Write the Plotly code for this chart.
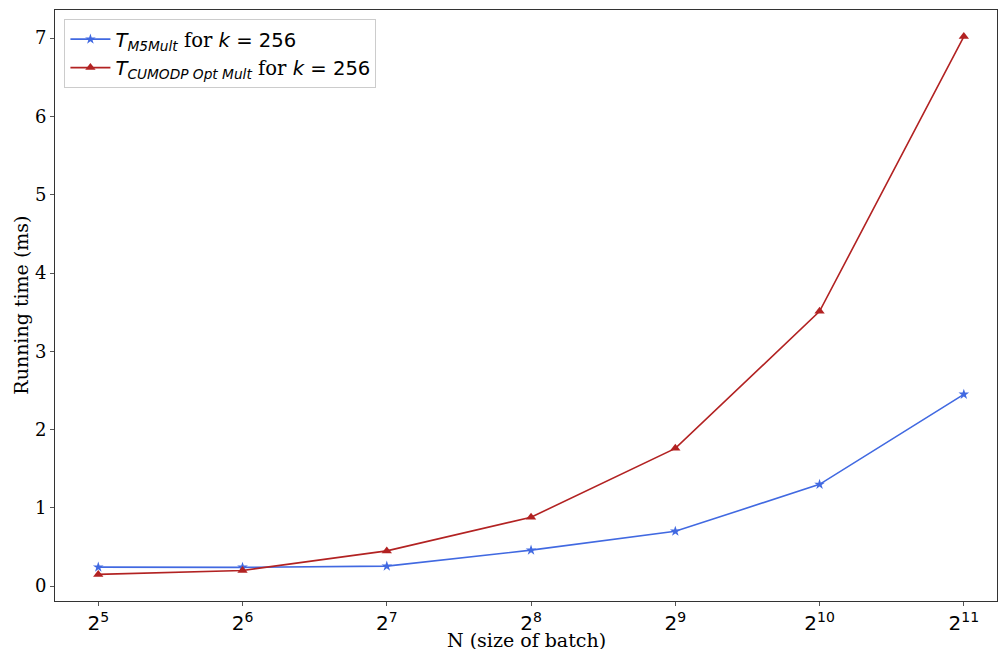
import plotly.graph_objects as go

# Batch sizes as powers of two (exponents of N)
batch_exp = [5, 6, 7, 8, 9, 10, 11]
tick_labels = [f"2<sup>{e}</sup>" for e in batch_exp]

# Running times in milliseconds
t_m5mult = [0.243, 0.24, 0.255, 0.46, 0.70, 1.30, 2.45]
t_cumodp = [0.15, 0.20, 0.45, 0.88, 1.76, 3.51, 7.02]

SERIF = "DejaVu Serif"
SANS = "DejaVu Sans"


def legend_label(sub):
    return (f"<span style='font-family:{SANS}'><i>T</i><sub><i>{sub}</i></sub></span>"
            f" for <span style='font-family:{SANS}'><i>k</i> = 256</span>")


fig = go.Figure()
fig.add_trace(go.Scatter(
    x=batch_exp, y=t_m5mult, mode="lines+markers",
    name=legend_label("M5Mult"),
    line=dict(color="royalblue", width=1.6),
    marker=dict(symbol="star", size=8, color="royalblue"),
))
fig.add_trace(go.Scatter(
    x=batch_exp, y=t_cumodp, mode="lines+markers",
    name=legend_label("CUMODP Opt Mult"),
    line=dict(color="firebrick", width=1.6),
    marker=dict(symbol="triangle-up", size=9, color="firebrick"),
))

axis_common = dict(
    showgrid=False, zeroline=False, showline=True, linecolor="#333333",
    linewidth=1, mirror=True, ticks="outside", ticklen=4, tickcolor="#555555",
    automargin=False,
)

fig.update_layout(
    width=998, height=649,
    margin=dict(l=55, r=1, t=10, b=48),
    plot_bgcolor="white", paper_bgcolor="white",
    font=dict(family=SERIF, size=18, color="black"),
    xaxis=dict(
        **axis_common,
        range=[4.70, 11.23],
        tickmode="array", tickvals=batch_exp, ticktext=tick_labels,
        tickfont=dict(family=SANS, size=20),
    ),
    yaxis=dict(
        **axis_common,
        range=[-0.19, 7.36],
        tickmode="array", tickvals=list(range(8)),
        tickfont=dict(family=SERIF, size=18),
    ),
    legend=dict(
        x=0.01, y=0.985, xanchor="left", yanchor="top",
        bgcolor="rgba(255,255,255,0.8)", bordercolor="#cccccc", borderwidth=1,
        font=dict(family=SERIF, size=19.6),
        itemwidth=40, tracegroupgap=0,
    ),
    annotations=[
        dict(
            text="N (size of batch)", xref="paper", yref="paper",
            x=0.5, y=-0.066, xanchor="center", yanchor="middle",
            showarrow=False, font=dict(family=SERIF, size=19),
        ),
        dict(
            text="Running time (ms)", xref="paper", yref="paper",
            x=-0.037, y=0.5, xanchor="center", yanchor="middle", textangle=-90,
            showarrow=False, font=dict(family=SERIF, size=19),
        ),
    ],
)

fig.write_html("out.html")
